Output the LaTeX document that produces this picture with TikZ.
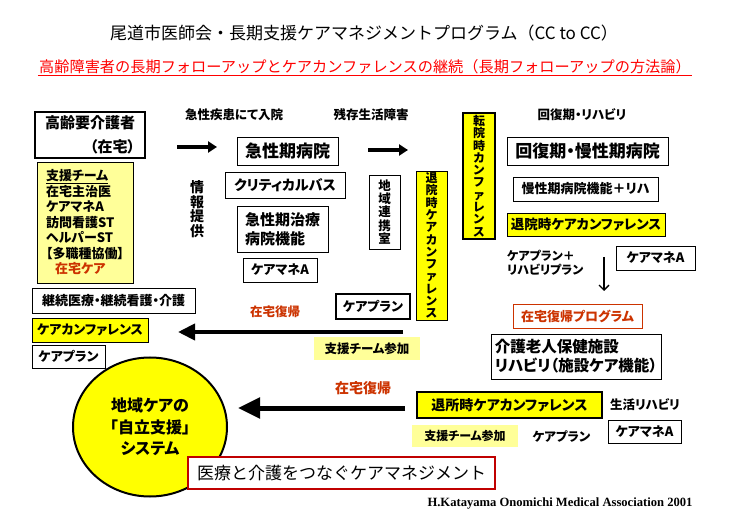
\documentclass[tikz,border=0pt]{standalone}
\usepackage{fontspec}
\setmainfont{Noto Sans CJK JP}[RawFeature=+palt]
\newfontfamily\fullfont{Noto Sans CJK JP}
\newfontfamily\creditfont{Liberation Serif}
\usetikzlibrary{arrows.meta,shapes.geometric,positioning}
\definecolor{cyel}{HTML}{FFFF00}
\definecolor{pyel}{HTML}{FFFF99}
\definecolor{cred}{HTML}{CC3300}
\definecolor{tred}{HTML}{FF0000}
\definecolor{dred}{HTML}{C00000}
\tikzset{
  box/.style={draw,fill=white,line width=0.8pt,inner sep=1pt,font=\bfseries\fontsize{13}{15}\selectfont},
  thickbox/.style={box,line width=2pt},
  ybox/.style={box,fill=cyel},
  vbox/.style={ybox,align=center,font=\bfseries\fontsize{12}{12.3}\selectfont},
  pbox/.style={fill=pyel,inner sep=1pt,font=\bfseries\fontsize{12.5}{15}\selectfont},
  lbl/.style={inner sep=1pt,font=\bfseries\fontsize{12.5}{14}\selectfont},
  redlbl/.style={lbl,text=cred},
  fatarrow/.style={line width=3.5pt,-{Triangle[length=9pt,width=11pt]}},
  bigarrow/.style={line width=4pt,-{Triangle[length=17pt,width=16pt]}}
}
\begin{document}
\begin{tikzpicture}[x=1pt,y=-1pt]
    \fill [white] (0,0) rectangle (731,521);
    \useasboundingbox (0,0) rectangle (731,521);

    \node [font=\fullfont\fontsize{17}{20}\selectfont] (title) at (364,33)
        {尾道市医師会・長期支援ケアマネジメントプログラム（CC to CC）};
    \node [text=tred,inner sep=1pt,font=\fullfont\fontsize{15.2}{18}\selectfont] (subtitle) at (365,67)
        {高齢障害者の長期フォローアップとケアカンファレンスの継続（長期フォローアップの方法論）};
    \draw [tred,line width=1.3pt] (subtitle.south west) -- (subtitle.south east);

    % left column
    \node [thickbox,minimum width=110,minimum height=46,align=right,
        font=\bfseries\fontsize{15}{24}\selectfont] (elder) at (90,135) {高齢要介護者\\（在宅）};
    \node [box,fill=pyel,minimum width=96,minimum height=121,align=left,
        font=\bfseries\fontsize{13}{15.5}\selectfont] (team) at (85,222.5)
        {\underline{支援チーム}\\在宅主治医\\ケアマネA\\訪問看護ST\\ヘルパーST\\【多職種協働】\\\hspace{0.7em}\textcolor{cred}{在宅ケア}};
    \node [box,minimum width=163,minimum height=25] (cont) at (113.5,300.5) {継続医療・継続看護・介護};
    \node [ybox,minimum width=116,minimum height=24] (homeconf) at (90,330) {ケアカンファレンス};
    \node [box,minimum width=73,minimum height=23] (homeplan) at (68.5,356.5) {ケアプラン};

    \node [draw,fill=cyel,line width=2pt,ellipse,minimum width=154,minimum height=139,align=center,
        font=\bfseries\fontsize{16}{21.5}\selectfont] (system) at (150,427) {地域ケアの\\「自立支援」\\システム};
    \node [draw=dred,fill=white,line width=2pt,minimum width=307,minimum height=32,
        font=\fullfont\fontsize{17}{20}\selectfont] (linkcm) at (341.5,473) {医療と介護をつなぐケアマネジメント};
    \node [font=\creditfont\bfseries\fontsize{12.6}{14}\selectfont] (credit) at (560,503)
        {H.Katayama Onomichi Medical Association 2001};

    % acute hospital
    \node [lbl] (admit) at (234,115) {急性疾患にて入院};
    \node [lbl] (residual) at (371,115) {残存生活障害};
    \coordinate (a1s) at (177,147);
    \coordinate (a1e) at (217,147);
    \draw [fatarrow] (a1s) -- (a1e);
    \node [box,minimum width=101,minimum height=28,font=\bfseries\fontsize{17}{20}\selectfont] (acute) at (287.5,151) {急性期病院};
    \coordinate (a2s) at (368,150);
    \coordinate (a2e) at (408,150);
    \draw [fatarrow] (a2s) -- (a2e);
    \node [lbl,align=center,font=\bfseries\fontsize{14}{14.5}\selectfont] (info) at (197,209) {情\\報\\提\\供};
    \node [box,minimum width=120,minimum height=26,font=\bfseries\fontsize{14}{16}\selectfont] (path) at (285,185) {クリティカルバス};
    \node [box,minimum width=91,minimum height=46,align=left,font=\bfseries\fontsize{15}{19}\selectfont] (acutefn) at (282.5,229) {急性期治療\\病院機能};
    \node [box,minimum width=74,minimum height=24] (acutecm) at (280,270) {ケアマネA};
    \node [box,minimum width=31,minimum height=74,align=center,font=\bfseries\fontsize{12.5}{13.2}\selectfont] (liaison) at (384.5,212) {地\\域\\連\\携\\室};
    \node [vbox,minimum width=31,minimum height=149] (dischconf) at (431.5,245.5) {退\\院\\時\\ケ\\ア\\カ\\ン\\フ\\ァ\\レ\\ン\\ス};
    \node [vbox,line width=2pt,minimum width=32,minimum height=126] (transconf) at (479,176) {転\\院\\時\\カ\\ン\\フ\\ァ\\レ\\ン\\ス};

    % recovery hospital
    \node [lbl] (rehab) at (582,115) {回復期・リハビリ};
    \node [box,minimum width=161,minimum height=28,font=\bfseries\fontsize{17}{20}\selectfont] (chronic) at (587.5,151) {回復期・慢性期病院};
    \node [box,minimum width=145,minimum height=24] (chronicfn) at (585.5,189) {慢性期病院機能＋リハ};
    \node [ybox,minimum width=158,minimum height=23,font=\bfseries\fontsize{13.5}{15}\selectfont] (chronicconf) at (586,224.5) {退院時ケアカンファレンス};
    \node [lbl,anchor=west,align=left,font=\bfseries\fontsize{12}{14}\selectfont] (rehabplan) at (506,263) {ケアプラン＋\\リハビリプラン};
    \node [box,minimum width=79,minimum height=24] (chroniccm) at (655.5,258) {ケアマネA};
    \coordinate (d1) at (604,257);
    \coordinate (d2) at (604,291);
    \draw [line width=1.3pt,-{Straight Barb[length=5pt,width=10pt]}] (d1) -- (d2);

    % care facility
    \node [box,draw=cred,text=cred,minimum width=129,minimum height=24] (homeprog) at (577.5,316) {在宅復帰プログラム};
    \node [box,minimum width=170,minimum height=45,align=left,font=\bfseries\fontsize{15.5}{19}\selectfont] (facility) at (576,356.5) {介護老人保健施設\\リハビリ（施設ケア機能）};
    \node [ybox,line width=2.2pt,minimum width=185,minimum height=26,font=\bfseries\fontsize{14}{16}\selectfont] (leaveconf) at (509.5,405) {退所時ケアカンファレンス};
    \node [lbl] (liferehab) at (645,405) {生活リハビリ};
    \node [pbox,minimum width=106,minimum height=22,font=\bfseries\fontsize{12}{14}\selectfont] (join2) at (465,436) {支援チーム参加};
    \node [lbl] (plan2) at (561.5,437) {ケアプラン};
    \node [box,minimum width=73,minimum height=23] (facilitycm) at (644.5,431.5) {ケアマネA};

    % return home
    \node [redlbl] (return1) at (275,312) {在宅復帰};
    \node [thickbox,minimum width=74,minimum height=25] (plan1) at (373,306.5) {ケアプラン};
    \coordinate (b1s) at (403,332);
    \coordinate (b1e) at (178,332);
    \draw [bigarrow] (b1s) -- (b1e);
    \node [pbox,minimum width=106,minimum height=23] (join1) at (367,348.5) {支援チーム参加};
    \node [redlbl,font=\bfseries\fontsize{14}{16}\selectfont] (return2) at (363,388) {在宅復帰};
    \coordinate (b2s) at (405,408);
    \coordinate (b2e) at (238,408);
    \draw [bigarrow,line width=5pt,-{Triangle[length=22pt,width=20pt]}] (b2s) -- (b2e);
\end{tikzpicture}
\end{document}
